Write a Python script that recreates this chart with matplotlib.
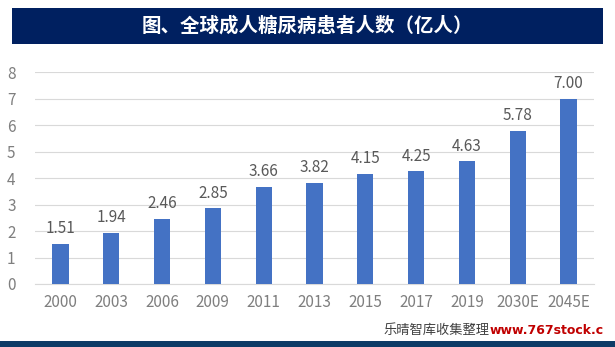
import matplotlib.pyplot as plt
from matplotlib.patches import Rectangle

plt.rcParams['font.family'] = ['Noto Sans CJK SC', 'DejaVu Sans']

years = ["2000", "2003", "2006", "2009", "2011", "2013", "2015", "2017", "2019", "2030E", "2045E"]
patients = [1.51, 1.94, 2.46, 2.85, 3.66, 3.82, 4.15, 4.25, 4.63, 5.78, 7.00]

fig = plt.figure(figsize=(6.15, 3.47), dpi=100)

# title banner
fig.patches.append(Rectangle((12/615, 1 - 44/347), 591/615, 36/347,
                             transform=fig.transFigure, facecolor='#002060', zorder=0))
fig.text(0.5, 1 - 26/347, "图、全球成人糖尿病患者人数（亿人）", color='white',
         fontsize=14, fontweight='bold', ha='center', va='center')

ax = fig.add_axes([35/615, 63/347, 559/615, 212/347])
x = range(len(years))
ax.bar(x, patients, width=0.32, color='#4472C4', zorder=3)
for xi, v in zip(x, patients):
    ax.text(xi, v + 0.25, f"{v:.2f}", ha='center', va='bottom', fontsize=11, color='#595959')

ax.set_xlim(-0.5, len(years) - 0.5)
ax.set_ylim(0, 8)
ax.set_yticks(range(9))
ax.set_xticks(list(x))
ax.set_xticklabels(years)
ax.grid(axis='y', color='#d9d9d9', linewidth=0.8, zorder=0)
for s in ax.spines.values():
    s.set_visible(False)
ax.spines['bottom'].set_visible(True)
ax.spines['bottom'].set_color('#d9d9d9')
ax.tick_params(length=0, labelsize=11, colors='#7f7f7f', pad=7)
ax.tick_params(axis='y', pad=14)

# bottom strip and watermark
fig.patches.append(Rectangle((0, 0), 1, 6/347, transform=fig.transFigure,
                             facecolor='#0d3b66', zorder=0))
fig.text(383/615, 1 - 330/347, "乐晴智库收集整理", fontsize=9.5, color='#404040', va='center')
fig.text(490/615, 1 - 330/347, "www.767stock.c", fontsize=9, color='#c00000',
         fontweight='bold', va='center', family='DejaVu Sans')

fig.savefig("out.png", dpi=100)
